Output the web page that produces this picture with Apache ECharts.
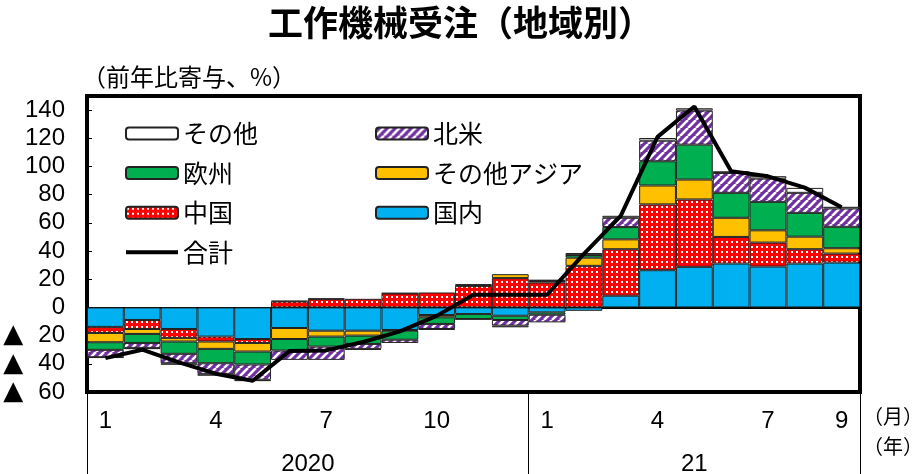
<!DOCTYPE html>
<html><head><meta charset="utf-8">
<script src="https://cdn.jsdelivr.net/npm/echarts@6/dist/echarts.min.js"></script>
<style>html,body{margin:0;padding:0;background:#fff}#c{width:921px;height:474px}</style>
</head><body><div id="c"></div>
<script>
// ---- data ----
const months = ['1','2','3','4','5','6','7','8','9','10','11','12','1','2','3','4','5','6','7','8','9'];
const years = ['2020', '21'];
const yearMonthCounts = [12, 9];
const monthLabelIdx = [0, 3, 6, 9, 12, 15, 18, 20];
const domestic = [-13.8,-8.9,-15.3,-20.7,-22.4,-14.6,-16.5,-16.5,-16,-5.4,-4.7,-5.9,-3.5,-2.4,8.3,26.4,28.8,31.1,29,31.1,31.8];
const china    = [-4.3,-6.4,-6.3,-3.5,-2.8,4.2,5.9,6.1,9.9,10.6,15.3,20.8,17.7,29.5,33,46.7,47.8,18.9,17,10.2,6.4];
const otherAsia= [-6.6,-3.5,-2.6,-5.2,-6.1,-7.8,-4.2,-3.5,-0.5,-1.6,0.4,2.8,1.0,5.8,7,13.4,14.1,13.6,8.7,8.9,3.8];
const europe   = [-5.4,-6.4,-8.7,-10.2,-9.2,-8.2,-7.1,-5.9,-6.4,-4.7,-3.5,-3.0,-1.7,1.9,8.7,17.2,24.8,17.7,20.2,16.9,15.2];
const northAm  = [-5.2,-3.5,-6.7,-7.5,-10.8,-6.6,-9.4,-3.5,-2.3,-3.6,-0.3,-4.0,-5.4,0.2,6.6,14.6,24.2,14.1,16.5,14.2,13];
const others   = [-0.5,-0.9,-1.1,-1.4,-1.0,0.5,0.4,-0.7,0.3,-0.5,0.8,-1.2,1.0,1.2,1.4,1.9,1.6,1.2,1.7,3.5,1.2];
const total    = [-36,-30,-39,-47,-52,-31,-30.5,-24.5,-17,-6,9,9,9,38,65,121,142.5,96.6,93,85,71];

// ---- patterns ----
function dotPattern(){
  const c=document.createElement('canvas'); c.width=5; c.height=5;
  const g=c.getContext('2d'); g.fillStyle='#FF0000'; g.fillRect(0,0,5,5);
  g.fillStyle='#FFFFFF'; g.fillRect(1,1,2,2);
  return {image:c, repeat:'repeat'};
}
function stripePattern(){
  const s=8;
  const c=document.createElement('canvas'); c.width=s; c.height=s;
  const g=c.getContext('2d'); g.fillStyle='#7030A0'; g.fillRect(0,0,s,s);
  g.strokeStyle='#FFFFFF'; g.lineWidth=2.6;
  for (const o of [-s,0,s]) { g.beginPath(); g.moveTo(o,s); g.lineTo(o+s,0); g.stroke(); }
  return {image:c, repeat:'repeat'};
}

// year centres / boundaries derived from month counts
const yearCentres = []; let acc = 0;
yearMonthCounts.forEach(n => { yearCentres.push(acc + n/2); acc += n; });
const yearBounds = [0]; acc = 0; yearMonthCounts.forEach(n => { acc += n; yearBounds.push(acc); });

const numFont = "'Liberation Sans',sans-serif";
const jpFont = "'Noto Sans CJK JP',sans-serif";
const border = {borderColor:'#222', borderWidth:1};

function barSeries(name, data, color){
  return {name, type:'bar', stack:'all', data, barCategoryGap:'0%',
    itemStyle:Object.assign({color}, border), emphasis:{disabled:true}};
}

const legendText = {fontFamily:jpFont, fontSize:25, lineHeight:25, color:'#000'};
const chart = echarts.init(document.getElementById('c'), null, {renderer:'canvas'});
chart.setOption({
  animation:false,
  title:{text:'工作機械受注（地域別）', left:'center', top:0,
    textStyle:{fontFamily:jpFont, fontWeight:'bold', fontSize:35, color:'#000'}},
  grid:{left:87, right:61, top:96, bottom:82, show:true, borderColor:'#000', borderWidth:4,
        containLabel:false, outerBoundsMode:'none'},
  legend:[
    {left:120, top:116, orient:'vertical', itemWidth:52, itemHeight:12, itemGap:14.6, textStyle:legendText,
     data:['その他','欧州','中国',{name:'合計', icon:'path://M0,0H52V4H0Z'}], selectedMode:false},
    {left:370, top:116, orient:'vertical', itemWidth:52, itemHeight:12, itemGap:14.6, textStyle:legendText,
     data:['北米','その他アジア','国内'], selectedMode:false}
  ],
  xAxis:[
    {type:'category', data:months, boundaryGap:true,
     axisLine:{show:false, onZero:false}, axisTick:{show:false},
     axisLabel:{interval:(i)=>monthLabelIdx.includes(i), margin:17, fontFamily:numFont, fontSize:24, color:'#000'}},
    {type:'value', min:0, max:months.length, position:'bottom',
     axisLine:{show:false, onZero:false}, splitLine:{show:false},
     axisTick:{show:true, customValues:yearBounds, length:82, lineStyle:{color:'#000', width:1}},
     axisLabel:{customValues:yearCentres, margin:60, fontFamily:numFont, fontSize:24, color:'#000',
       formatter:(v)=>years[yearCentres.indexOf(v)] || ''}},
    {type:'category', data:months, boundaryGap:true,
     axisLine:{show:true, onZero:true, lineStyle:{color:'#000', width:2}},
     axisTick:{show:false}, axisLabel:{show:false}}
  ],
  yAxis:{type:'value', min:-60, max:150, interval:20,
    axisLine:{show:false}, splitLine:{show:false},
    axisTick:{show:true, inside:true, length:5, lineStyle:{color:'#000'}},
    axisLabel:{margin:22, color:'#000', fontFamily:numFont, fontSize:24, hideOverlap:false,
      formatter:(v)=> v>140 ? '' : (v<0 ? '{t|▲}'+Math.abs(v) : String(v)),
      rich:{t:{fontSize:26, fontFamily:"'DejaVu Sans',sans-serif", color:'#000', padding:[0,15,0,0]}}}},
  graphic:[
    {type:'text', left:82, top:65, style:{text:'（前年比寄与、%）', font:"24px 'Noto Sans CJK JP'", fill:'#000'}},
    {type:'text', left:863, top:406, style:{text:'（月）', font:"20px 'Noto Sans CJK JP'", fill:'#000'}},
    {type:'text', left:863, top:436, style:{text:'（年）', font:"20px 'Noto Sans CJK JP'", fill:'#000'}}
  ],
  series:[
    barSeries('国内', domestic, '#00B0F0'),
    barSeries('中国', china, dotPattern()),
    barSeries('その他アジア', otherAsia, '#FFC000'),
    barSeries('欧州', europe, '#00B050'),
    barSeries('北米', northAm, stripePattern()),
    barSeries('その他', others, '#FFFFFF'),
    {name:'合計', type:'line', data:total, symbol:'none', z:5,
     lineStyle:{color:'#000', width:4}, itemStyle:{color:'#000'}, emphasis:{disabled:true}}
  ]
});
</script></body></html>
